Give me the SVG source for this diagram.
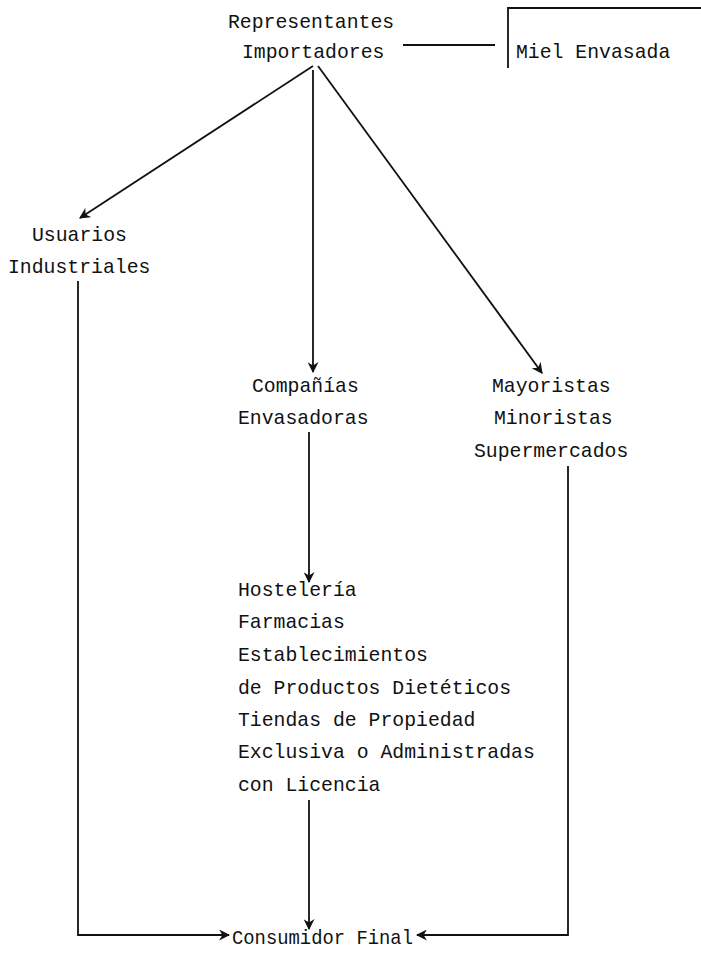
<svg xmlns="http://www.w3.org/2000/svg" width="701" height="954" viewBox="0 0 701 954">
<style>
text{font-family:"Liberation Mono","DejaVu Sans Mono",monospace;font-size:19.8px;fill:#111}
.c{stroke:#111;stroke-width:1.8;fill:none}
</style>
<defs>
<marker id="a" viewBox="0 0 10 10" refX="9" refY="5" markerWidth="11" markerHeight="11" orient="auto" markerUnits="userSpaceOnUse">
<path d="M0,0 L10,5 L0,10 L3,5 z" fill="#111"/>
</marker>
</defs>
<rect width="701" height="954" fill="#fff"/>
<g id="representantes"><text x="228" y="28">Representantes</text><text x="242" y="58">Importadores</text></g>
<g id="miel"><path class="c" d="M508,68 V8 H701"/><text x="516" y="58">Miel Envasada</text></g>
<g id="usuarios"><text x="32" y="241">Usuarios</text><text x="8" y="273">Industriales</text></g>
<g id="companias"><text x="252" y="392">Compañías</text><text x="238" y="424">Envasadoras</text></g>
<g id="mayoristas"><text x="492" y="392">Mayoristas</text><text x="494" y="424">Minoristas</text><text x="474" y="457">Supermercados</text></g>
<g id="hosteleria"><text x="238" y="596">Hostelería</text><text x="238" y="628">Farmacias</text><text x="238" y="661">Establecimientos</text><text x="238" y="694">de Productos Dietéticos</text><text x="238" y="726">Tiendas de Propiedad</text><text x="238" y="758">Exclusiva o Administradas</text><text x="238" y="791">con Licencia</text></g>
<g id="consumidor"><text x="232" y="944" textLength="181" lengthAdjust="spacingAndGlyphs">Consumidor Final</text></g>
<g id="connectors">
<path class="c" d="M403,45 H495"/>
<path class="c" d="M313,66 L80,218" marker-end="url(#a)"/>
<path class="c" d="M313,70 V372" marker-end="url(#a)"/>
<path class="c" d="M318,66 L542,373" marker-end="url(#a)"/>
<path class="c" d="M78,281 V935 H229" marker-end="url(#a)"/>
<path class="c" d="M309,432 V582" marker-end="url(#a)"/>
<path class="c" d="M309,800 V929" marker-end="url(#a)"/>
<path class="c" d="M568,466 V935 H417" marker-end="url(#a)"/>
</g>
</svg>
